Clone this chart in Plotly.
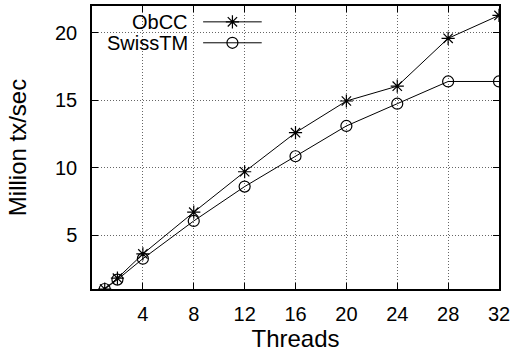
import plotly.graph_objects as go

threads = [1, 2, 4, 8, 12, 16, 20, 24, 28, 32]
obcc = [1.0, 1.8, 3.6, 6.7, 9.7, 12.6, 14.95, 16.05, 19.6, 21.3]
swisstm = [1.0, 1.7, 3.25, 6.05, 8.6, 10.85, 13.1, 14.75, 16.4, 16.4]
series_names = ["ObCC", "SwissTM"]
x_ticks = [4, 8, 12, 16, 20, 24, 28, 32]
y_ticks = [5, 10, 15, 20]

FONT = "Liberation Sans, Arial, Helvetica, sans-serif"
fs = 20

fig = go.Figure()
fig.add_trace(go.Scatter(x=threads, y=obcc, mode="lines+markers", name=series_names[0],
                         line=dict(color="black", width=1),
                         marker=dict(symbol="asterisk-open", size=11, color="black",
                                     line=dict(color="black", width=1.2)),
                         showlegend=False))
fig.add_trace(go.Scatter(x=threads, y=swisstm, mode="lines+markers", name=series_names[1],
                         line=dict(color="black", width=1),
                         marker=dict(symbol="circle-open", size=11, color="black",
                                     line=dict(color="black", width=1.2)),
                         showlegend=False))

# gnuplot-style key (text right-aligned, sample on the right)
key_rows = [0.944, 0.870]
key_symbols = ["asterisk-open", "circle-open"]
for name, yy, sym in zip(series_names, key_rows, key_symbols):
    fig.add_annotation(xref="paper", yref="paper", x=0.242, y=yy, text=name,
                       showarrow=False, xanchor="right", yanchor="middle",
                       font=dict(family=FONT, size=fs, color="black"))
    fig.add_shape(type="line", xref="paper", yref="paper", x0=0.273, x1=0.417, y0=yy, y1=yy,
                  line=dict(color="black", width=1))
    fig.add_trace(go.Scatter(x=[0.345], y=[yy], xaxis="x2", yaxis="y2", mode="markers",
                             marker=dict(symbol=sym, size=11, color="black",
                                         line=dict(color="black", width=1.2)),
                             showlegend=False, hoverinfo="skip"))

# white key background hiding grid
fig.add_shape(type="rect", xref="paper", yref="paper", x0=0.0, x1=0.45, y0=0.84, y1=1.0,
              fillcolor="white", line=dict(width=0), layer="between")

fig.update_layout(
    width=514, height=352,
    margin=dict(l=92, r=12, t=4, b=63),
    paper_bgcolor="white", plot_bgcolor="white",
    font=dict(family=FONT, size=fs, color="black"),
    xaxis=dict(range=[0, 32], tickvals=x_ticks, ticks="inside", ticklen=6, tickcolor="black",
               showline=True, linecolor="black", linewidth=1.5, mirror="ticks",
               showgrid=True, gridcolor="#666", griddash="1px,2px", gridwidth=1, zeroline=False,
               title=dict(text="Threads", standoff=6), ticklabelstandoff=6),
    yaxis=dict(range=[1, 22], tickvals=y_ticks, ticks="inside", ticklen=6, tickcolor="black",
               showline=True, linecolor="black", linewidth=1.5, mirror="ticks",
               showgrid=True, gridcolor="#666", griddash="1px,2px", gridwidth=1, zeroline=False,
               title=dict(text="Million tx/sec", standoff=22), ticklabelstandoff=9),
    xaxis2=dict(overlaying="x", range=[0, 1], visible=False, anchor="y2"),
    yaxis2=dict(overlaying="y", range=[0, 1], visible=False, anchor="x2"),
)
fig.write_html("out.html", config={"displayModeBar": False},
               post_script="document.body.style.margin='0';")
